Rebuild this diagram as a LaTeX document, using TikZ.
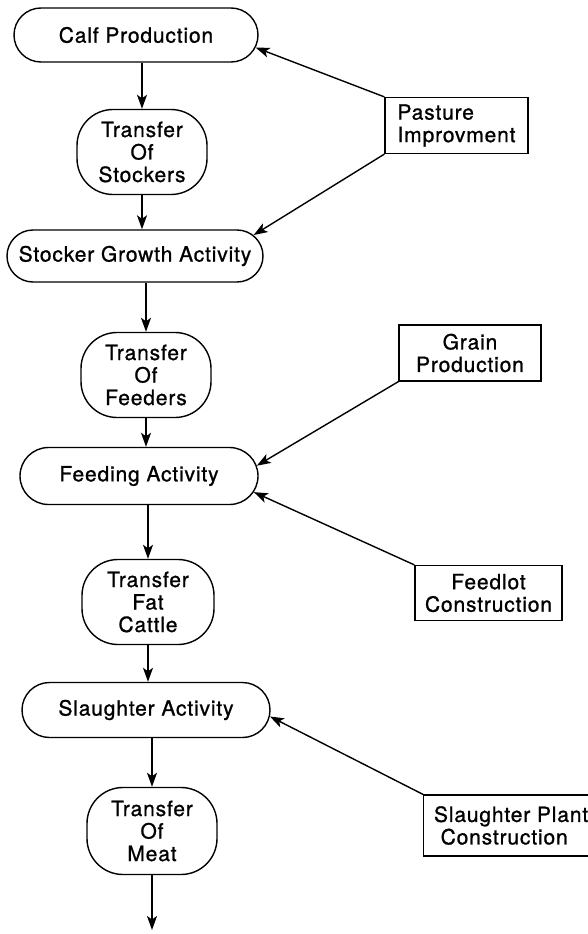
\documentclass[tikz,border=0pt]{standalone}
\usepackage{fontspec}
\setmainfont{TeX Gyre Heros}[LetterSpace=4,FakeBold=1]
\usetikzlibrary{arrows.meta,shapes.misc}

\begin{document}
\begin{tikzpicture}[x=1pt,y=-1pt,line width=1.4pt,
        every node/.style={font=\fontsize{21}{22.5}\selectfont,inner sep=2pt},
        activity/.style={draw,rounded rectangle,minimum height=54pt},
        transfer/.style={draw,rectangle,rounded corners=36pt,align=center,minimum height=85pt,minimum width=130pt},
        input/.style={draw,rectangle,line width=1.2pt,minimum height=56pt},
        flow/.style={-{Stealth[length=14pt,width=10pt,inset=3.5pt]}}]
        \useasboundingbox (0,0) rectangle (588,934);
        % main chain
        \node[activity,minimum width=248pt] (calf) at (136,35) {Calf Production};
        \node[transfer] (stockers) at (142,152) {Transfer\\Of\\Stockers};
        \node[activity,minimum width=260pt,minimum height=52pt] (growth) at (135,256) {Stocker Growth Activity};
        \node[transfer] (feeders) at (146,375) {Transfer\\Of\\Feeders};
        \node[activity,minimum width=242pt,minimum height=57pt] (feeding) at (139,476) {Feeding Activity};
        \node[transfer,minimum width=132pt] (fatcattle) at (148,602) {Transfer\\Fat\\Cattle};
        \node[activity,minimum width=252pt,minimum height=55pt] (slaughter) at (146,710) {Slaughter Activity};
        \node[transfer,minimum height=87pt] (meat) at (152,831) {Transfer\\Of\\Meat};
        \coordinate (out) at (152,930);
        % inputs
        \node[input,minimum width=143pt,align=left] (pasture) at (456.5,125.5) {Pasture\\Improvment};
        \node[input,minimum width=142pt,align=center] (grain) at (470,353) {Grain\\Production};
        \node[input,minimum width=147pt,minimum height=55pt,align=center] (feedlot) at (488.5,593) {Feedlot\\Construction};
        \node[input,minimum width=175pt,minimum height=61pt,align=left,anchor=west] (plant) at (423,825.5) {Slaughter Plant\\\ Construction};
        % flows down
        \draw[flow] (stockers.north |- calf.south) -- (stockers.north);
        \draw[flow] (stockers.south) -- (stockers.south |- growth.north);
        \draw[flow] (feeders.north |- growth.south) -- (feeders.north);
        \draw[flow] (feeders.south) -- (feeders.south |- feeding.north);
        \draw[flow] (fatcattle.north |- feeding.south) -- (fatcattle.north);
        \draw[flow] (fatcattle.south) -- (fatcattle.south |- slaughter.north);
        \draw[flow] (meat.north |- slaughter.south) -- (meat.north);
        \draw[flow] (meat.south) -- (out);
        % side inputs
        \draw[flow] (pasture.north west) -- (calf.-6);
        \draw[flow] (pasture.south west) -- (growth.10);
        \draw[flow] (grain.south west) -- (feeding.5);
        \draw[flow] (feedlot.north west) -- (feeding.-8);
        \draw[flow] (plant.north west) -- (slaughter.-3);
    \end{tikzpicture}
\end{document}
